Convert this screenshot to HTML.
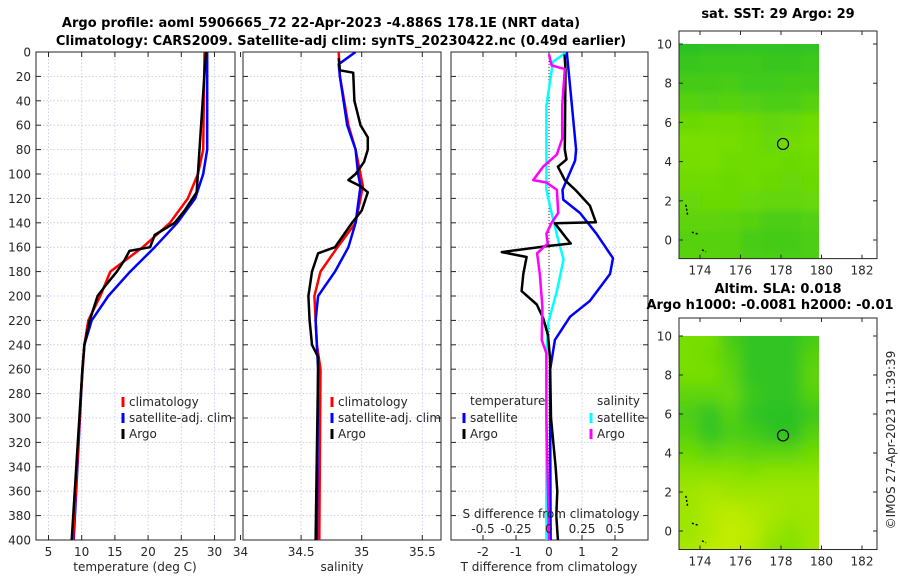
<!DOCTYPE html>
<html><head><meta charset="utf-8"><style>
body{margin:0;background:#fff}
svg{display:block;font-family:"DejaVu Sans","Liberation Sans",sans-serif}
.tk{font-size:12px;fill:#262626}
.tt{font-size:13px;font-weight:bold;fill:#000}
</style></head><body>
<svg id="fig" width="900" height="580" viewBox="0 0 900 580">
<defs>
<clipPath id="c1"><rect x="36" y="52" width="199" height="488"/></clipPath>
<clipPath id="c2"><rect x="243" y="52" width="198" height="488"/></clipPath>
<clipPath id="c3"><rect x="451" y="52" width="197" height="488"/></clipPath>
<clipPath id="cm1"><rect x="679" y="44" width="140" height="215"/></clipPath>
<clipPath id="cm2"><rect x="679" y="336" width="140" height="214"/></clipPath>
<filter id="blur" x="-20%" y="-20%" width="140%" height="140%"><feGaussianBlur stdDeviation="7"/></filter>
<filter id="blur1" x="-20%" y="-20%" width="140%" height="140%"><feGaussianBlur stdDeviation="3"/></filter>
</defs>
<text class="tt" x="321" y="27" text-anchor="middle">Argo profile: aoml 5906665_72 22-Apr-2023 -4.886S 178.1E (NRT data)</text>
<text class="tt" x="341" y="45" text-anchor="middle">Climatology: CARS2009. Satellite-adj clim: synTS_20230422.nc (0.49d earlier)</text>
<g id="g1"></g>
<g id="g2"></g>
<g id="g3"></g>
<g id="m1"></g>
<g id="m2"></g>
<text class="tk" transform="translate(895,440) rotate(-90)" text-anchor="middle">©IMOS 27-Apr-2023 11:39:39</text>
</svg>
<script>
// ---- data ----
const depthTicks=[0,20,40,60,80,100,120,140,160,180,200,220,240,260,280,300,320,340,360,380,400];
const tTicks=[5,10,15,20,25,30];
const sTicks=[34,34.5,35,35.5];
const dTTicks=[-2,-1,0,1,2];
const dSTickLabels=["-0.5","-0.25","0","0.25","0.5"];
const dSTicks=[-0.5,-0.25,0,0.25,0.5];
const tClimD=[0,80,100,120,140,160,180,200,220,240,280,400];
const tClimV=[28.5,28.3,27.5,26,23.3,19.2,14.3,12.8,11,10.4,9.9,8.7];
const tSatD=[0,80,100,120,140,160,180,200,220,240,260,400];
const tSatV=[28.9,28.9,28.3,27.1,24.4,21,17.3,14,11.5,10.4,10.1,8.8];
const tArgoD=[0,100,115,130,140,150,160,163,170,180,190,200,220,240,260,400];
const tArgoV=[28.7,27.5,27.3,25.5,24,21,20.3,17.2,16.5,15.3,13.8,12.4,11.2,10.4,10.1,8.5];
const sClimD=[0,20,60,80,110,120,140,160,180,200,240,260,400];
const sClimV=[34.81,34.82,34.89,34.95,35.01,34.99,34.95,34.8,34.66,34.61,34.63,34.66,34.65];
const sSatD=[0,10,20,60,80,100,110,140,160,180,200,220,260,400];
const sSatV=[34.95,34.81,34.82,34.88,34.95,34.97,34.99,34.95,34.89,34.78,34.64,34.62,34.64,34.63];
const sArgoD=[5,15,17,40,60,70,80,90,100,105,110,115,130,140,150,160,165,180,200,220,240,250,260,400];
const sArgoV=[34.81,34.82,34.93,34.94,34.99,35.05,35.05,35.02,34.95,34.89,34.99,35.05,35.0,34.92,34.85,34.78,34.64,34.59,34.56,34.57,34.59,34.64,34.64,34.62];
const dTSatD=[0,80,89,113,121,132,149,169,182,204,217,236,261,400];
const dTSatV=[0.54,0.82,0.79,0.41,0.43,0.94,1.44,1.94,1.85,1.24,0.64,0.18,0.03,0.05];
const dTArgoD=[2,14,80,88,94,105,113,126,139.6,140.4,152.7,157,159,164,168,182,196,207,218,232,251,300,340,360,380,400];
const dTArgoV=[0.47,0.5,0.48,0.53,0.27,0.48,0.8,1.24,1.42,0.18,0.53,0.66,-0.03,-1.43,-0.68,-0.78,-0.83,-0.37,-0.18,-0.03,0.03,0.06,0.2,0.25,0.22,0.27];
const dSSatD=[0,8,44,113,132,154,170,196,223,250,400];
const dSSatV=[0.134,0.03,-0.02,-0.02,0.02,0.07,0.11,0.06,-0.008,-0.02,-0.02];
const dSArgoD=[2,11,14,44,71,84,94,105,107,113,132,140,149,157,165,182,209,236,247,300,400];
const dSArgoV=[0,0.02,0.12,0.1,0.1,0.06,-0.045,-0.12,-0.02,0.06,0.07,0.02,-0.02,-0.01,-0.09,-0.07,-0.05,-0.055,-0.02,-0.02,0];
const latTicks=[0,2,4,6,8,10];
const lonTicks=[174,176,178,180,182];
const argoLon=178.1, argoLat=4.9;
const sstGrid=[[0.05,0.08,0.08,0.1,0.1,0.08,0.1],[0.12,0.15,0.15,0.15,0.12,0.12,0.15],[0.2,0.2,0.22,0.18,0.18,0.2,0.2],[0.3,0.28,0.3,0.28,0.25,0.25,0.3],[0.42,0.45,0.45,0.42,0.38,0.4,0.45],[0.5,0.5,0.48,0.45,0.4,0.45,0.48],[0.48,0.5,0.45,0.45,0.45,0.42,0.45],[0.45,0.45,0.42,0.45,0.42,0.4,0.42],[0.4,0.42,0.42,0.4,0.38,0.38,0.4],[0.35,0.35,0.33,0.3,0.25,0.25,0.28],[0.3,0.3,0.3,0.22,0.2,0.2,0.25],[0.32,0.32,0.3,0.25,0.22,0.22,0.25]];
const slaGrid=[[0.5,0.5,0.2,0.1,0.1,0.1,0.2],[0.5,0.45,0.3,0.1,0.1,0.1,0.3],[0.5,0.5,0.35,0.1,0.1,0.1,0.35],[0.35,0.35,0.4,0.15,0.1,0.1,0.3],[0.25,0.1,0.3,0.1,0.05,0.05,0.15],[0.3,0.1,0.25,0.2,0.1,0.05,0.3],[0.45,0.35,0.4,0.35,0.35,0.35,0.45],[0.6,0.6,0.6,0.55,0.6,0.6,0.6],[0.7,0.75,0.7,0.7,0.7,0.7,0.7],[0.7,0.8,0.85,0.8,0.75,0.7,0.7],[0.7,0.8,0.9,0.85,0.7,0.6,0.7],[0.75,0.85,0.9,0.8,0.6,0.55,0.7]];
const gridLats=[10,9,8,7,6,5,4,3,2,1,0,-1];
const gridLons=[173,174,175,176,177,178,179];

// ---- helpers ----
const NS="http://www.w3.org/2000/svg";
function mk(parent,tag,attrs,txt){const e=document.createElementNS(NS,tag);for(const k in attrs)e.setAttribute(k,attrs[k]);if(txt!==undefined)e.textContent=txt;parent.appendChild(e);return e;}
const Y0=52,Y1=540;
const yD=d=>Y0+(d/400)*(Y1-Y0);
function panel(g,x0,x1,xs,ticks,labels,clip,showY){
  depthTicks.forEach(d=>{const l=mk(g,'line',{x1:x0,x2:x1,y1:yD(d),y2:yD(d),stroke:'#c4c4e4','stroke-width':0.8,'stroke-dasharray':'1.5,2'});
  });
  ticks.forEach(t=>{const x=xs(t);if(x>x0+1&&x<x1-1){const l=mk(g,'line',{x1:x,x2:x,y1:Y0,y2:Y1,stroke:'#c4c4e4','stroke-width':0.8,'stroke-dasharray':'1.5,2'});
  }});
  depthTicks.forEach(d=>{mk(g,'line',{x1:x0,x2:x0+5,y1:yD(d),y2:yD(d),stroke:'#262626'});mk(g,'line',{x1:x1-5,x2:x1,y1:yD(d),y2:yD(d),stroke:'#262626'});
    if(showY){const t=mk(g,'text',{class:'tk',x:x0-5,y:yD(d)+4.5,'text-anchor':'end'},d);}});
  ticks.forEach((t,i)=>{const x=xs(t);mk(g,'line',{x1:x,x2:x,y1:Y1,y2:Y1-5,stroke:'#262626'});mk(g,'line',{x1:x,x2:x,y1:Y0,y2:Y0+5,stroke:'#262626'});
    const tx=mk(g,'text',{class:'tk',x:x,y:556,'text-anchor':'middle'},labels[i]);});
  const r=mk(g,'rect',{x:x0,y:Y0,width:x1-x0,height:Y1-Y0,fill:'none',stroke:'#262626','stroke-width':1});
  
}
function line(g,ds,vs,xs,col,name,w){const pts=ds.map((d,i)=>xs(vs[i]).toFixed(1)+','+yD(d).toFixed(1)).join(' ');
  const p=mk(g,'polyline',{points:pts,fill:'none',stroke:col,'stroke-width':w||2.5,'stroke-linejoin':'round'});
  return p;}
function legend(g,x,y,col,label,name){mk(g,'line',{x1:x,x2:x,y1:y-9,y2:y+1,stroke:col,'stroke-width':3});
  const t=mk(g,'text',{class:'tk',x:x+6,y:y},label);}

// ---- panel 1 ----
const g1=document.getElementById('g1');
const xT=t=>48.5+(t-5)*6.64;
panel(g1,36,235,xT,tTicks,tTicks,'c1',true);
const l1=mk(g1,'g',{'clip-path':'url(#c1)'});
line(l1,tSatD,tSatV,xT,'#0000ff','temp-satellite-line');
line(l1,tClimD,tClimV,xT,'#ff0000','temp-climatology-line');
line(l1,tArgoD,tArgoV,xT,'#000000','temp-argo-line');
legend(g1,123,406,'#ff0000','climatology','legend-climatology');
legend(g1,123,422,'#0000ff','satellite-adj. clim','legend-satellite');
legend(g1,123,438,'#000000','Argo','legend-argo');
mk(g1,'text',{class:'tk',x:135,y:571,'text-anchor':'middle'},'temperature (deg C)');

// ---- panel 2 ----
const g2=document.getElementById('g2');
const xS=s=>240.5+(s-34)*121.2;
panel(g2,243,441,xS,sTicks,sTicks,'c2',false);
const l2=mk(g2,'g',{'clip-path':'url(#c2)'});
line(l2,sClimD,sClimV,xS,'#ff0000','sal-climatology-line');
line(l2,sSatD,sSatV,xS,'#0000ff','sal-satellite-line');
line(l2,sArgoD,sArgoV,xS,'#000000','sal-argo-line');
legend(g2,332,406,'#ff0000','climatology','legend-climatology-2');
legend(g2,332,422,'#0000ff','satellite-adj. clim','legend-satellite-2');
legend(g2,332,438,'#000000','Argo','legend-argo-2');
mk(g2,'text',{class:'tk',x:342,y:571,'text-anchor':'middle'},'salinity');

// ---- panel 3 ----
const g3=document.getElementById('g3');
const xDT=t=>549+t*33;
const xDS=s=>549+s*132;
panel(g3,451,648,xDT,dTTicks,dTTicks,'c3',false);
mk(g3,'line',{x1:549,x2:549,y1:Y0,y2:Y1,stroke:'#333','stroke-width':1,'stroke-dasharray':'1,2'});
const l3=mk(g3,'g',{'clip-path':'url(#c3)'});
line(l3,dSSatD,dSSatV,xDS,'#00ffff','sdiff-satellite-line');
line(l3,dTSatD,dTSatV,xDT,'#0000ff','tdiff-satellite-line');
line(l3,dTArgoD,dTArgoV,xDT,'#000000','tdiff-argo-line');
line(l3,dSArgoD,dSArgoV,xDS,'#ff00ff','sdiff-argo-line');
mk(g3,'text',{class:'tk',x:470,y:405},'temperature');
mk(g3,'text',{class:'tk',x:597,y:405},'salinity');
legend(g3,464,422,'#0000ff','satellite','legend-t-satellite');
legend(g3,464,438,'#000000','Argo','legend-t-argo');
legend(g3,591,422,'#00ffff','satellite','legend-s-satellite');
legend(g3,591,438,'#ff00ff','Argo','legend-s-argo');
mk(g3,'text',{class:'tk',x:551,y:518,'text-anchor':'middle'},'S difference from climatology');
dSTicks.forEach((s,i)=>{const t=mk(g3,'text',{class:'tk',x:xDS(s),y:533,'text-anchor':'middle'},dSTickLabels[i]);
 });
mk(g3,'text',{class:'tk',x:549,y:571,'text-anchor':'middle'},'T difference from climatology');

// ---- maps ----
function cmap(v){const a=[[34,190,40],[120,222,0],[215,240,0]];
 const f=v<0.5?v/0.5:(v-0.5)/0.5;const c0=v<0.5?a[0]:a[1],c1=v<0.5?a[1]:a[2];
 return 'rgb('+c0.map((c,i)=>Math.round(c+(c1[i]-c)*f)).join(',')+')';}
function map(g,top,lat10y,lat0y,grid,clipId,filterId,title1,title2){
 const lonX=l=>700+(l-174)*20.25;const latY=l=>lat0y+(lat10y-lat0y)*l/10;
 const hg=mk(g,'g',{'clip-path':'url(#'+clipId+')'});const inner=mk(hg,'g',{filter:'url(#'+filterId+')'});
 const nr=grid.length,nc=grid[0].length,pad=20;
 grid.forEach((row,r)=>row.forEach((v,c)=>{let y=latY(gridLats[r]+0.5);let y2=latY(gridLats[r]-0.5)+0.5;
  let x=lonX(gridLons[c]);let x2=lonX(gridLons[c]+1)+0.5;
  if(r===0)y-=pad; if(r===nr-1)y2+=pad; if(c===0)x-=pad; if(c===nc-1)x2+=pad;
  const cell=mk(inner,'rect',{x:x.toFixed(1),y:y.toFixed(1),width:(x2-x).toFixed(1),height:(y2-y).toFixed(1),fill:cmap(v)});
  }));
 const fb=lat0y+(lat0y-lat10y)*0.095;
 const fr=mk(g,'rect',{x:679,y:top,width:198,height:fb-top,fill:'none',stroke:'#262626'});
 
 latTicks.forEach(l=>{const y=latY(l);mk(g,'line',{x1:679,x2:683,y1:y,y2:y,stroke:'#262626'});mk(g,'line',{x1:873,x2:877,y1:y,y2:y,stroke:'#262626'});
  const t=mk(g,'text',{class:'tk',x:672,y:y+4.5,'text-anchor':'end'},l);});
 lonTicks.forEach(l=>{const x=lonX(l);mk(g,'line',{x1:x,x2:x,y1:fb,y2:fb-4,stroke:'#262626'});mk(g,'line',{x1:x,x2:x,y1:top,y2:top+4,stroke:'#262626'});
  const t=mk(g,'text',{class:'tk',x:x,y:fb+16,'text-anchor':'middle'},l);});
 const c=mk(g,'circle',{cx:lonX(argoLon),cy:latY(argoLat),r:5.5,fill:'none',stroke:'#000','stroke-width':1.2});
 
 [[173.3,1.8,173.4,1.2],[173.6,0.4,173.9,0.3],[174.1,-0.5,174.3,-0.6]].forEach(s=>mk(g,'line',{x1:lonX(s[0]),y1:latY(s[1]),x2:lonX(s[2]),y2:latY(s[3]),stroke:'#000','stroke-width':1.5,'stroke-dasharray':'2,2'}));
 mk(g,'text',{class:'tt',x:778,y:title2?top-25:top-13,'text-anchor':'middle'},title1);
 if(title2)mk(g,'text',{class:'tt',x:770,y:top-9,'text-anchor':'middle'},title2);
}
map(document.getElementById('m1'),31,44,240,sstGrid,'cm1','blur1','sat. SST: 29 Argo: 29');
map(document.getElementById('m2'),318,336,531,slaGrid,'cm2','blur','Altim. SLA: 0.018','Argo h1000: -0.0081 h2000: -0.01');
</script>
</body></html>
